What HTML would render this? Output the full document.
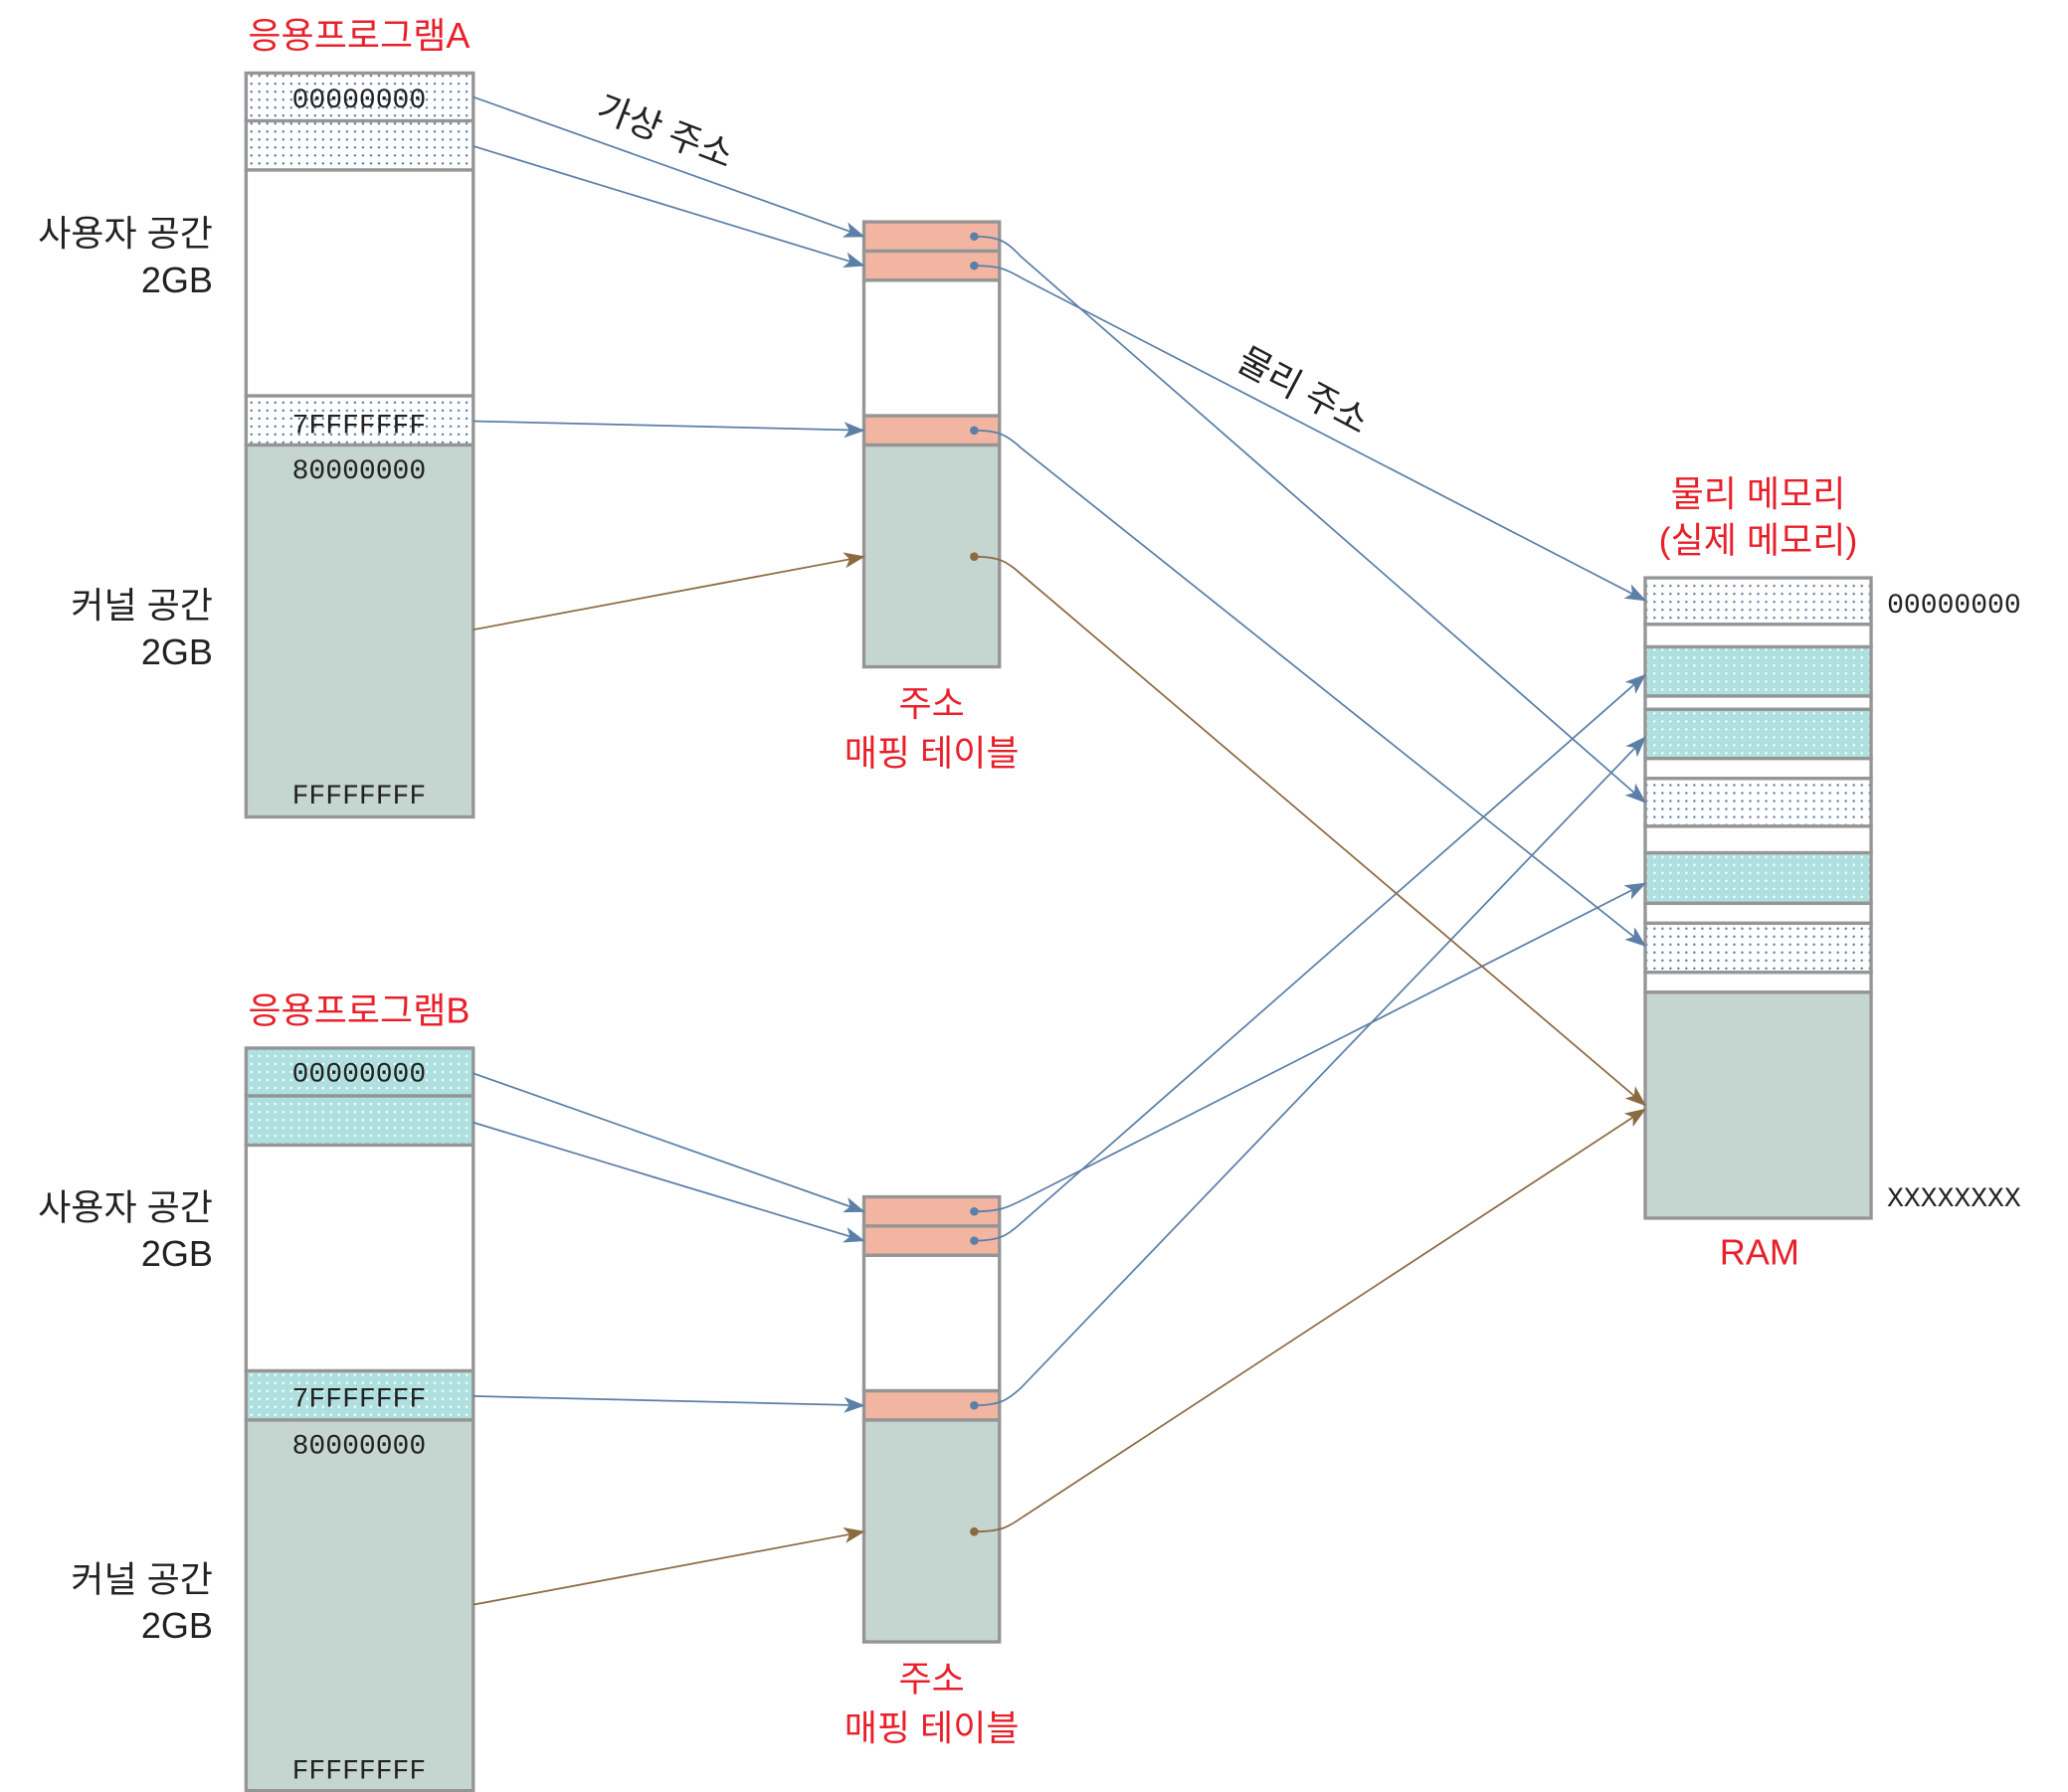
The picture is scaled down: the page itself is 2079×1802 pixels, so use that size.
<!DOCTYPE html>
<html><head><meta charset="utf-8"><style>html,body{margin:0;padding:0;background:#fff}svg{display:block}</style></head>
<body>
<svg width="2079" height="1802" viewBox="0 0 1556 1349" xmlns="http://www.w3.org/2000/svg">
<defs>
<pattern id="pb" width="6" height="6" patternUnits="userSpaceOnUse"><rect width="6" height="6" fill="#fff"/><circle cx="3" cy="3" r="0.9" fill="#5b7fa6"/></pattern>
<pattern id="pc" width="6" height="6" patternUnits="userSpaceOnUse"><rect width="6" height="6" fill="#aee0df"/><circle cx="3" cy="3" r="0.9" fill="#fff"/></pattern>
<marker id="ab" markerWidth="16" markerHeight="12" refX="15" refY="6" orient="auto" markerUnits="userSpaceOnUse"><path d="M0,0 L16,6 L0,12 L4,6 Z" fill="#5b7fa6"/></marker>
<marker id="ar" markerWidth="16" markerHeight="12" refX="15" refY="6" orient="auto" markerUnits="userSpaceOnUse"><path d="M0,0 L16,6 L0,12 L4,6 Z" fill="#8b6a40"/></marker>
</defs>
<g font-family="'Liberation Sans','Noto Sans CJK KR',sans-serif">
<!-- Program A -->
<text x="270" y="36" font-size="27" fill="#e8202a" text-anchor="middle">응용프로그램A</text>
<g stroke="#959595" stroke-width="2.5">
<rect x="185" y="55" width="171" height="36" fill="url(#pb)"/>
<rect x="185" y="91" width="171" height="37" fill="url(#pb)"/>
<rect x="185" y="128" width="171" height="170" fill="#fff"/>
<rect x="185" y="298" width="171" height="37" fill="url(#pb)"/>
<rect x="185" y="335" width="171" height="280" fill="#c5d5cf"/>
</g>
<!-- Program B -->
<text x="270" y="770" font-size="27" fill="#e8202a" text-anchor="middle">응용프로그램B</text>
<g stroke="#959595" stroke-width="2.5">
<rect x="185" y="789" width="171" height="36" fill="url(#pc)"/>
<rect x="185" y="825" width="171" height="37" fill="url(#pc)"/>
<rect x="185" y="862" width="171" height="170" fill="#fff"/>
<rect x="185" y="1032" width="171" height="37" fill="url(#pc)"/>
<rect x="185" y="1069" width="171" height="279" fill="#c5d5cf"/>
</g>
<g font-family="'Liberation Mono','DejaVu Sans Mono',monospace" font-size="21" fill="#222" text-anchor="middle">
<text x="270" y="81">00000000</text>
<text x="270" y="326">7FFFFFFF</text>
<text x="270" y="360">80000000</text>
<text x="270" y="605">FFFFFFFF</text>
<text x="270" y="814">00000000</text>
<text x="270" y="1059">7FFFFFFF</text>
<text x="270" y="1094">80000000</text>
<text x="270" y="1339">FFFFFFFF</text>
<text x="1420" y="461" text-anchor="start">00000000</text>
<text x="1420" y="908" text-anchor="start">XXXXXXXX</text>
</g>
<g font-size="27" fill="#222" text-anchor="end">
<text x="160" y="185">사용자 공간</text><text x="160" y="220">2GB</text>
<text x="160" y="465">커널 공간</text><text x="160" y="500">2GB</text>
<text x="160" y="918">사용자 공간</text><text x="160" y="953">2GB</text>
<text x="160" y="1198">커널 공간</text><text x="160" y="1233">2GB</text>
</g>
<!-- Mapping A -->
<g stroke="#959595" stroke-width="2.5">
<rect x="650" y="167" width="102" height="22" fill="#f1b5a2"/>
<rect x="650" y="189" width="102" height="22" fill="#f1b5a2"/>
<rect x="650" y="211" width="102" height="102" fill="#fff"/>
<rect x="650" y="313" width="102" height="22" fill="#f1b5a2"/>
<rect x="650" y="335" width="102" height="167" fill="#c5d5cf"/>
<rect x="650" y="901" width="102" height="22" fill="#f1b5a2"/>
<rect x="650" y="923" width="102" height="22" fill="#f1b5a2"/>
<rect x="650" y="945" width="102" height="102" fill="#fff"/>
<rect x="650" y="1047" width="102" height="22" fill="#f1b5a2"/>
<rect x="650" y="1069" width="102" height="167" fill="#c5d5cf"/>
</g>
<g font-size="27" fill="#e8202a" text-anchor="middle">
<text x="701" y="539">주소</text><text x="701" y="576">매핑 테이블</text>
<text x="701" y="1273">주소</text><text x="701" y="1310">매핑 테이블</text>
<text x="1323" y="381">물리 메모리</text><text x="1323" y="416">(실제 메모리)</text>
<text x="1324" y="952">RAM</text>
</g>
<!-- RAM -->
<g stroke="#959595" stroke-width="2.5">
<rect x="1238" y="435" width="170" height="35" fill="url(#pb)"/>
<rect x="1238" y="470" width="170" height="17" fill="#fff"/>
<rect x="1238" y="487" width="170" height="37" fill="url(#pc)"/>
<rect x="1238" y="524" width="170" height="10" fill="#fff"/>
<rect x="1238" y="534" width="170" height="37" fill="url(#pc)"/>
<rect x="1238" y="571" width="170" height="15" fill="#fff"/>
<rect x="1238" y="586" width="170" height="36" fill="url(#pb)"/>
<rect x="1238" y="622" width="170" height="20" fill="#fff"/>
<rect x="1238" y="642" width="170" height="38" fill="url(#pc)"/>
<rect x="1238" y="680" width="170" height="15" fill="#fff"/>
<rect x="1238" y="695" width="170" height="37" fill="url(#pb)"/>
<rect x="1238" y="732" width="170" height="15" fill="#fff"/>
<rect x="1238" y="747" width="170" height="170" fill="#c5d5cf"/>
</g>
<text x="500" y="108" font-size="27" fill="#222" text-anchor="middle" transform="rotate(21 500 100)">가상 주소</text>
<text x="980" y="303" font-size="27" fill="#222" text-anchor="middle" transform="rotate(28 980 295)">물리 주소</text>
<!-- arrows -->
<g fill="none" stroke="#5b7fa6" stroke-width="1.3" marker-end="url(#ab)">
<path d="M356,73 L650,178"/>
<path d="M356,110 L650,200"/>
<path d="M356,317 L650,324"/>
<path d="M733,178 C752,178 758,182 768,193 L1238,604"/>
<path d="M733,200 C752,200 758,203 770,210 L1238,452"/>
<path d="M733,324 C752,324 758,328 768,337 L1238,712"/>
<path d="M356,808 L650,912"/>
<path d="M356,845 L650,934"/>
<path d="M356,1051 L650,1058"/>
<path d="M733,912 C752,912 758,909 770,903 L1238,665"/>
<path d="M733,934 C752,934 758,930 768,921 L1238,508"/>
<path d="M733,1058 C752,1058 758,1054 768,1045 L1238,555"/>
</g>
<g fill="none" stroke="#8b6a40" stroke-width="1.3" marker-end="url(#ar)">
<path d="M356,474 L650,419"/>
<path d="M733,419 C752,419 758,423 768,432 L1238,832"/>
<path d="M356,1208 L650,1153"/>
<path d="M733,1153 C752,1153 758,1150 768,1143 L1238,835"/>
</g>
<g fill="#5b7fa6">
<circle cx="733" cy="178" r="3.2"/><circle cx="733" cy="200" r="3.2"/><circle cx="733" cy="324" r="3.2"/>
<circle cx="733" cy="912" r="3.2"/><circle cx="733" cy="934" r="3.2"/><circle cx="733" cy="1058" r="3.2"/>
</g>
<g fill="#8b6a40"><circle cx="733" cy="419" r="3.2"/><circle cx="733" cy="1153" r="3.2"/></g>
</g>
</svg>
</body></html>
